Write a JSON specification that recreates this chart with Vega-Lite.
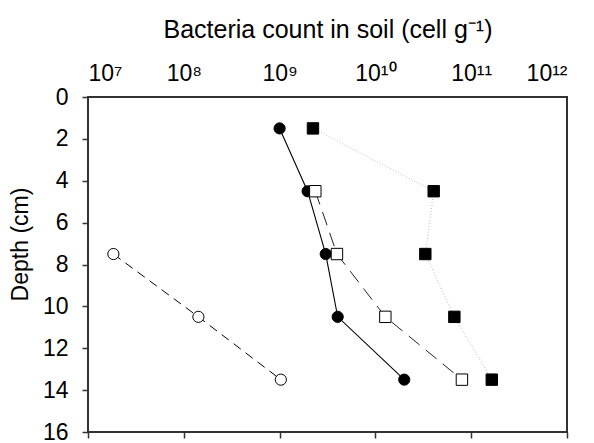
{
  "$schema": "https://vega.github.io/schema/vega-lite/v6.json",
  "width": 479,
  "height": 335,
  "autosize": {"type": "none"},
  "padding": {"left": 88, "top": 97, "right": 27, "bottom": 11},
  "background": "white",
  "config": {
    "font": "Liberation Sans",
    "view": {"stroke": null},
    "axis": {"grid": false, "domain": false, "labelColor": "#000", "titleColor": "#000", "titleFontWeight": "normal", "tickColor": "#333", "tickWidth": 1.5}
  },
  "data": {"values": [
    {"series": "A", "count": 1.0e9, "depth": 1.5},
    {"series": "A", "count": 1.96e9, "depth": 4.5},
    {"series": "A", "count": 3.03e9, "depth": 7.5},
    {"series": "A", "count": 4.04e9, "depth": 10.5},
    {"series": "A", "count": 2.0e10, "depth": 13.5},
    {"series": "B", "count": 1.84e7, "depth": 7.5},
    {"series": "B", "count": 1.42e8, "depth": 10.5},
    {"series": "B", "count": 1.03e9, "depth": 13.5},
    {"series": "C", "count": 2.36e9, "depth": 4.5},
    {"series": "C", "count": 3.97e9, "depth": 7.5},
    {"series": "C", "count": 1.27e10, "depth": 10.5},
    {"series": "C", "count": 8.0e10, "depth": 13.5},
    {"series": "D", "count": 2.23e9, "depth": 1.5},
    {"series": "D", "count": 4.06e10, "depth": 4.5},
    {"series": "D", "count": 3.32e10, "depth": 7.5},
    {"series": "D", "count": 6.67e10, "depth": 10.5},
    {"series": "D", "count": 1.64e11, "depth": 13.5}
  ]},
  "resolve": {"axis": {"x": "independent"}},
  "layer": [
    {
      "mark": {"type": "rect", "fillOpacity": 0, "fill": "#fff", "stroke": "#333", "strokeWidth": 1.5},
      "encoding": {
        "x": {"datum": 1e7, "type": "quantitative",
          "scale": {"type": "log", "domain": [1e7, 1e12], "nice": false},
          "axis": {"orient": "top", "values": [1e7, 1e8, 1e9, 1e10, 1e11, 1e12],
            "labelExpr": "'10' + ['⁷','⁸','⁹','¹⁰','¹¹','¹²'][round(log(datum.value)/LN10) - 7]",
            "ticks": false, "labelFontSize": 23, "labelPadding": 12,
            "title": "Bacteria count in soil (cell g⁻¹)", "titleFontSize": 25,
            "titleY": -60, "titleBaseline": "alphabetic"}},
        "x2": {"datum": 1e12},
        "y": {"datum": 0, "type": "quantitative",
          "scale": {"domain": [0, 16], "reverse": true, "nice": false, "zero": false},
          "axis": {"orient": "left", "values": [0, 2, 4, 6, 8, 10, 12, 14, 16], "ticks": true, "tickSize": 6, "labelPadding": 14,
            "labelFontSize": 23, "title": "Depth (cm)", "titleFontSize": 23,
            "titleAngle": -90, "titleX": -68, "titleY": 147, "titleAlign": "center", "titleBaseline": "middle"}},
        "y2": {"datum": 16}
      }
    },
    {
      "transform": [{"filter": "datum.series == 'A'"}],
      "mark": {"type": "line", "color": "#000", "strokeWidth": 1.1},
      "encoding": {
        "x": {"field": "count", "type": "quantitative",
          "axis": {"orient": "bottom", "values": [1e7, 1e8, 1e9, 1e10, 1e11, 1e12], "labels": false, "ticks": true, "tickSize": 6, "title": null}},
        "y": {"field": "depth", "type": "quantitative"},
        "order": {"field": "depth", "type": "quantitative"}
      }
    },
    {
      "transform": [{"filter": "datum.series == 'B'"}],
      "mark": {"type": "line", "color": "#000", "strokeWidth": 1, "strokeDash": [9, 6]},
      "encoding": {
        "x": {"field": "count", "type": "quantitative", "axis": null},
        "y": {"field": "depth", "type": "quantitative"},
        "order": {"field": "depth", "type": "quantitative"}
      }
    },
    {
      "transform": [{"filter": "datum.series == 'C'"}],
      "mark": {"type": "line", "color": "#222", "strokeWidth": 1, "strokeDash": [14, 8]},
      "encoding": {
        "x": {"field": "count", "type": "quantitative", "axis": null},
        "y": {"field": "depth", "type": "quantitative"},
        "order": {"field": "depth", "type": "quantitative"}
      }
    },
    {
      "transform": [{"filter": "datum.series == 'D'"}],
      "mark": {"type": "line", "color": "#bbb", "strokeWidth": 1, "strokeDash": [1, 2]},
      "encoding": {
        "x": {"field": "count", "type": "quantitative", "axis": null},
        "y": {"field": "depth", "type": "quantitative"},
        "order": {"field": "depth", "type": "quantitative"}
      }
    },
    {
      "transform": [{"filter": "datum.series == 'A'"}],
      "mark": {"type": "point", "shape": "circle", "filled": true, "fill": "#000", "stroke": "#000", "strokeWidth": 1, "size": 125, "opacity": 1},
      "encoding": {
        "x": {"field": "count", "type": "quantitative", "axis": null},
        "y": {"field": "depth", "type": "quantitative"}
      }
    },
    {
      "transform": [{"filter": "datum.series == 'B'"}],
      "mark": {"type": "point", "shape": "circle", "filled": true, "fill": "#fff", "stroke": "#000", "strokeWidth": 1, "size": 125, "opacity": 1},
      "encoding": {
        "x": {"field": "count", "type": "quantitative", "axis": null},
        "y": {"field": "depth", "type": "quantitative"}
      }
    },
    {
      "transform": [{"filter": "datum.series == 'C'"}],
      "mark": {"type": "point", "shape": "square", "filled": true, "fill": "#fff", "stroke": "#000", "strokeWidth": 1, "size": 130, "opacity": 1},
      "encoding": {
        "x": {"field": "count", "type": "quantitative", "axis": null},
        "y": {"field": "depth", "type": "quantitative"}
      }
    },
    {
      "transform": [{"filter": "datum.series == 'D'"}],
      "mark": {"type": "point", "shape": "square", "filled": true, "fill": "#000", "stroke": "#000", "strokeWidth": 1, "size": 130, "opacity": 1},
      "encoding": {
        "x": {"field": "count", "type": "quantitative", "axis": null},
        "y": {"field": "depth", "type": "quantitative"}
      }
    }
  ]
}
